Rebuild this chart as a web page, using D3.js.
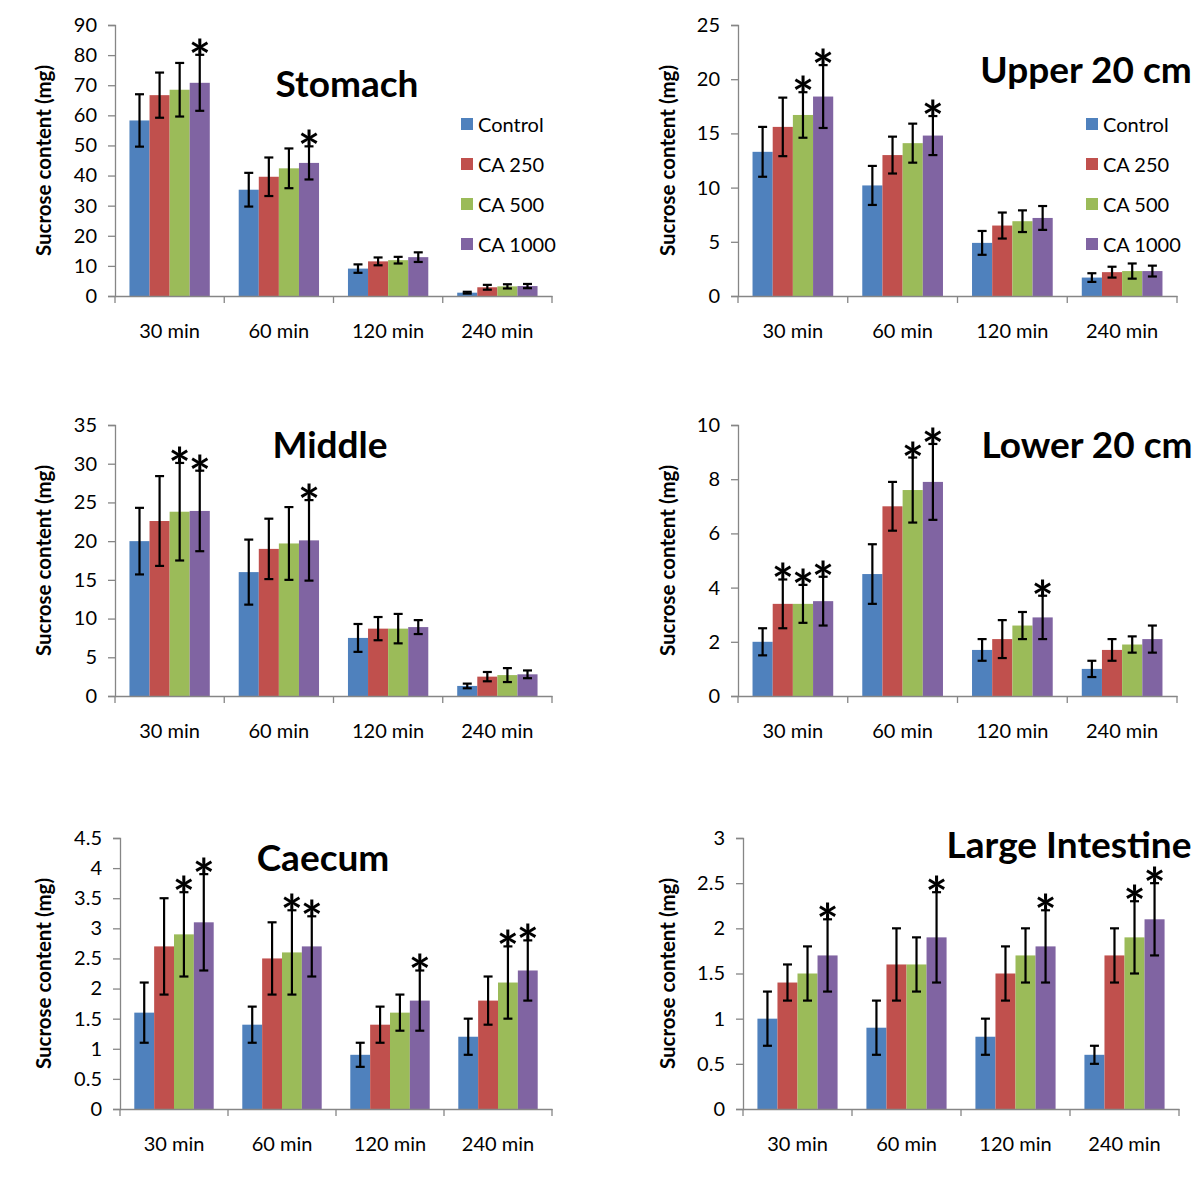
<!DOCTYPE html>
<html>
<head>
<meta charset="utf-8">
<script src="https://cdn.jsdelivr.net/npm/d3@7"></script>
<style>
  html, body { margin: 0; padding: 0; background: #fff; }
  svg { display: block; }
  text { font-family: Lato, "Open Sans", sans-serif; fill: #000; }
</style>
</head>
<body>
<svg id="chart" width="1200" height="1177"></svg>
<script>
// ---------- data ----------
const categories = ["30 min", "60 min", "120 min", "240 min"];
const seriesNames = ["Control", "CA 250", "CA 500", "CA 1000"];
const seriesColors = ["#4F81BD", "#C0504D", "#9BBB59", "#8064A2"];

// rows = series (Control, CA 250, CA 500, CA 1000); columns = categories
const stomachMeans = [[58.3, 35.3, 9.1, 1.1], [66.7, 39.6, 11.5, 2.9], [68.5, 42.4, 11.9, 3.2], [70.8, 44.2, 12.9, 3.3]];
const stomachErr   = [[8.7, 5.6, 1.4, 0.3], [7.5, 6.4, 1.3, 0.8], [8.9, 6.6, 1.1, 0.7], [9.3, 5.5, 1.6, 0.7]];
const stomachStars = [[0, 0, 0, 0], [0, 0, 0, 0], [0, 0, 0, 0], [1, 1, 0, 0]];

const upperMeans = [[13.3, 10.2, 4.9, 1.7], [15.6, 13.0, 6.5, 2.2], [16.7, 14.1, 6.9, 2.3], [18.4, 14.8, 7.2, 2.3]];
const upperErr   = [[2.3, 1.8, 1.1, 0.4], [2.7, 1.7, 1.2, 0.5], [2.1, 1.8, 1.0, 0.7], [2.9, 1.8, 1.1, 0.5]];
const upperStars = [[0, 0, 0, 0], [0, 0, 0, 0], [1, 0, 0, 0], [1, 1, 0, 0]];

const middleMeans = [[20.0, 16.0, 7.5, 1.3], [22.6, 19.0, 8.7, 2.5], [23.8, 19.7, 8.7, 2.7], [23.9, 20.1, 8.9, 2.8]];
const middleErr   = [[4.3, 4.2, 1.8, 0.3], [5.8, 3.9, 1.5, 0.6], [6.3, 4.7, 1.9, 0.9], [5.2, 5.2, 0.9, 0.5]];
const middleStars = [[0, 0, 0, 0], [0, 0, 0, 0], [1, 0, 0, 0], [1, 1, 0, 0]];

const lowerMeans = [[2.0, 4.5, 1.7, 1.0], [3.4, 7.0, 2.1, 1.7], [3.4, 7.6, 2.6, 1.9], [3.5, 7.9, 2.9, 2.1]];
const lowerErr   = [[0.5, 1.1, 0.4, 0.3], [0.9, 0.9, 0.7, 0.4], [0.7, 1.2, 0.5, 0.3], [0.9, 1.4, 0.8, 0.5]];
const lowerStars = [[0, 0, 0, 0], [1, 0, 0, 0], [1, 1, 0, 0], [1, 1, 1, 0]];

const caecumMeans = [[1.6, 1.4, 0.9, 1.2], [2.7, 2.5, 1.4, 1.8], [2.9, 2.6, 1.6, 2.1], [3.1, 2.7, 1.8, 2.3]];
const caecumErr   = [[0.5, 0.3, 0.2, 0.3], [0.8, 0.6, 0.3, 0.4], [0.7, 0.7, 0.3, 0.6], [0.8, 0.5, 0.5, 0.5]];
const caecumStars = [[0, 0, 0, 0], [0, 0, 0, 0], [1, 1, 0, 1], [1, 1, 1, 1]];

const largeMeans = [[1.0, 0.9, 0.8, 0.6], [1.4, 1.6, 1.5, 1.7], [1.5, 1.6, 1.7, 1.9], [1.7, 1.9, 1.8, 2.1]];
const largeErr   = [[0.3, 0.3, 0.2, 0.1], [0.2, 0.4, 0.3, 0.3], [0.3, 0.3, 0.3, 0.4], [0.4, 0.5, 0.4, 0.4]];
const largeStars = [[0, 0, 0, 0], [0, 0, 0, 0], [0, 0, 0, 1], [1, 1, 1, 1]];

const panelTitles = ["Stomach", "Upper 20 cm", "Middle", "Lower 20 cm", "Caecum", "Large Intestine"];
const yMaxima = [90, 25, 35, 10, 4.5, 3];
const yStepSizes = [10, 5, 5, 2, 0.5, 0.5];
const yAxisTitle = "Sucrose content (mg)";

// ---------- layout ----------
const panels = [
  { means: stomachMeans, err: stomachErr, stars: stomachStars, x0: 115, x1: 552, y0: 296, y1: 25, titleX: 347, titleY: 82, yTitleX: 43, legend: { x: 461 } },
  { means: upperMeans, err: upperErr, stars: upperStars, x0: 738, x1: 1177, y0: 296, y1: 25, titleX: 1086, titleY: 68, yTitleX: 667, legend: { x: 1086 } },
  { means: middleMeans, err: middleErr, stars: middleStars, x0: 115, x1: 552, y0: 696, y1: 425, titleX: 330, titleY: 443, yTitleX: 43 },
  { means: lowerMeans, err: lowerErr, stars: lowerStars, x0: 738, x1: 1177, y0: 696, y1: 425, titleX: 1087, titleY: 443, yTitleX: 667 },
  { means: caecumMeans, err: caecumErr, stars: caecumStars, x0: 120, x1: 552, y0: 1109, y1: 838, titleX: 323, titleY: 856, yTitleX: 43 },
  { means: largeMeans, err: largeErr, stars: largeStars, x0: 743, x1: 1179, y0: 1109, y1: 838, titleX: 1069, titleY: 843, yTitleX: 667 }
];

const svg = d3.select("#chart");
const axisColor = "#868686";

panels.forEach((p, pi) => {
  const g = svg.append("g");
  const x = d3.scaleBand().domain(categories).range([p.x0, p.x1]).paddingInner(0).paddingOuter(0);
  const xs = d3.scaleBand().domain(seriesNames).range([0, x.bandwidth()]).paddingInner(0).paddingOuter(0.72);
  const y = d3.scaleLinear().domain([0, yMaxima[pi]]).range([p.y0, p.y1]);
  const tickVals = d3.range(0, yMaxima[pi] + yStepSizes[pi] / 2, yStepSizes[pi]).map(v => +v.toFixed(2));

  // bars
  const rows = [];
  seriesNames.forEach((s, si) => categories.forEach((c, ci) => {
    rows.push({ s, si, c, ci, v: p.means[si][ci], e: p.err[si][ci], star: p.stars[si][ci] });
  }));
  g.append("g").selectAll("rect").data(rows).join("rect")
    .attr("x", d => x(d.c) + xs(d.s))
    .attr("y", d => y(d.v))
    .attr("width", xs.bandwidth())
    .attr("height", d => y(0) - y(d.v))
    .attr("fill", d => seriesColors[d.si]);

  // y axis
  const ya = g.append("g").attr("transform", `translate(${p.x0},0)`)
    .call(d3.axisLeft(y).tickValues(tickVals).tickFormat(d => String(d)).tickSize(7).tickPadding(11));
  ya.select(".domain").attr("stroke", axisColor).attr("stroke-width", 1.3);
  ya.selectAll(".tick line").attr("stroke", axisColor).attr("stroke-width", 1.3);
  ya.selectAll(".tick text").style("font-family", "Lato, sans-serif").style("font-size", "20px").attr("fill", "#000");

  // x axis
  const xa = g.append("g").attr("transform", `translate(0,${p.y0})`)
    .call(d3.axisBottom(x).tickSize(0).tickPadding(28));
  xa.select(".domain").attr("stroke", axisColor).attr("stroke-width", 1.3);
  xa.selectAll(".tick text").style("font-family", "Lato, sans-serif").style("font-size", "20px").attr("fill", "#000");
  const bounds = categories.map(c => x(c)).concat([p.x1]);
  xa.selectAll("line.bound").data(bounds).join("line").attr("class", "bound")
    .attr("x1", d => d).attr("x2", d => d).attr("y1", 0).attr("y2", 7)
    .attr("stroke", axisColor).attr("stroke-width", 1.3);

  // error bars
  const eg = g.append("g").attr("stroke", "#000").attr("stroke-width", 2.2);
  const cap = 4.5;
  rows.forEach(d => {
    const cx = x(d.c) + xs(d.s) + xs.bandwidth() / 2;
    const yt = y(d.v + d.e), yb = y(d.v - d.e);
    eg.append("line").attr("x1", cx).attr("x2", cx).attr("y1", yt).attr("y2", yb);
    eg.append("line").attr("x1", cx - cap).attr("x2", cx + cap).attr("y1", yt).attr("y2", yt);
    eg.append("line").attr("x1", cx - cap).attr("x2", cx + cap).attr("y1", yb).attr("y2", yb);
  });

  // significance stars
  g.append("g").selectAll("text.star").data(rows.filter(d => d.star)).join("text")
    .attr("class", "star")
    .attr("x", d => x(d.c) + xs(d.s) + xs.bandwidth() / 2)
    .attr("y", d => y(d.v + d.e) + 23)
    .attr("text-anchor", "middle")
    .style("font-size", "52px")
    .style("font-weight", "bold")
    .text("*");

  // panel title
  g.append("text").attr("x", p.titleX).attr("y", p.titleY)
    .attr("text-anchor", "middle").attr("dominant-baseline", "central")
    .style("font-weight", "bold").style("font-size", "37px")
    .text(panelTitles[pi]);

  // y axis title
  g.append("text")
    .attr("transform", `translate(${p.yTitleX},${(p.y0 + p.y1) / 2}) rotate(-90)`)
    .attr("text-anchor", "middle").attr("dominant-baseline", "central")
    .style("font-weight", "bold").style("font-size", "20.5px")
    .text(yAxisTitle);

  // legend
  if (p.legend) {
    const lg = g.append("g").selectAll("g").data(seriesNames).join("g")
      .attr("transform", (d, i) => `translate(${p.legend.x},${124 + i * 40})`);
    lg.append("rect").attr("x", 0).attr("y", -6).attr("width", 12).attr("height", 12)
      .attr("fill", (d, i) => seriesColors[i]);
    lg.append("text").attr("x", 17).attr("y", 0).attr("dominant-baseline", "central")
      .style("font-size", "20px").text(d => d);
  }
});
</script>
</body>
</html>
